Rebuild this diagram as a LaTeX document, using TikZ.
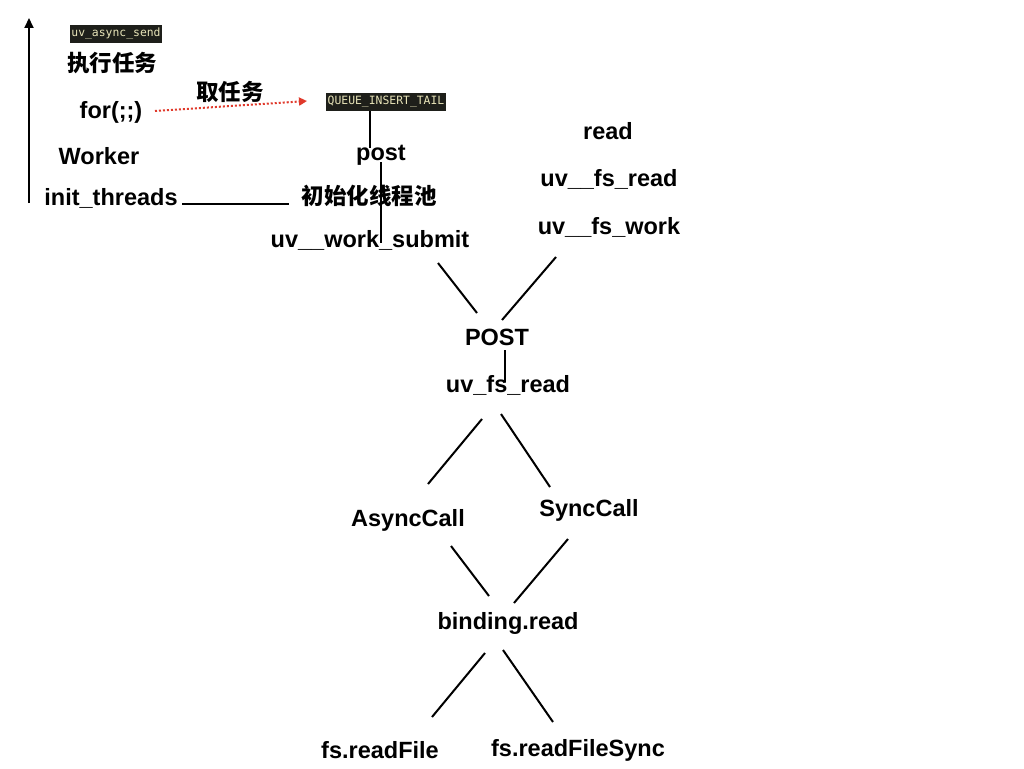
\documentclass[tikz,border=0pt]{standalone}
\usepackage{fontspec}
\setmainfont{Liberation Sans}
\newfontfamily\cjk{Noto Sans CJK SC}
\newfontfamily\monof{DejaVu Sans Mono}
\usetikzlibrary{arrows.meta}
\begin{document}
\begin{tikzpicture}[x=1pt,y=-1pt,
  lbl/.style={inner sep=0pt,font=\fontsize{23.5}{28}\selectfont\bfseries},
  cj/.style={inner sep=0pt,font=\fontsize{22.5}{28}\selectfont\cjk\bfseries},
  code/.style={fill=codebg,text=codefg,inner xsep=1.5pt,inner ysep=3pt,font=\fontsize{11.4}{13}\selectfont\monof},
  ln/.style={line width=2pt,black},
]
\definecolor{codebg}{HTML}{1E1F1A}
\definecolor{codefg}{HTML}{E8E4B8}
\definecolor{redd}{HTML}{E0392B}
\useasboundingbox[fill=white] (0,0) rectangle (1024,768);

% left column
\node[code] (async) at (116,34) {uv\_async\_send};
\node[cj] (exec) at (112,63) {执行任务};
\node[lbl] (for) at (111,112) {for(;;)};
\node[lbl] (worker) at (99,156) {Worker};
\node[lbl] (init) at (111,198) {init\_threads};
\node[cj] (take) at (230,92) {取任务};
\node[code] (queue) at (386,102) {QUEUE\_INSERT\_TAIL};
\node[lbl] (post) at (381,155) {post};
\node[cj] (pool) at (369,196) {初始化线程池};
\node[lbl] (submit) at (370,240) {uv\_\_work\_submit};

% right column
\node[lbl] (read) at (608,131) {read};
\node[lbl] (fsread) at (609,179) {uv\_\_fs\_read};
\node[lbl] (fswork) at (609,227) {uv\_\_fs\_work};

\node[lbl] (POST) at (497,337) {POST};
\node[lbl] (uvfsread) at (508,385) {uv\_fs\_read};
\node[lbl] (async2) at (408,520) {AsyncCall};
\node[lbl] (sync) at (589,510) {SyncCall};
\node[lbl] (binding) at (508,623) {binding.read};
\node[lbl] (readfile) at (380,750) {fs.readFile};
\node[lbl] (readfilesync) at (578,750) {fs.readFileSync};

% connector end points
\coordinate (axb) at (29,203);
\coordinate (axt) at (29,18);
\coordinate (d1) at (155,111);
\coordinate (d2) at (307,101);
\coordinate (q1) at (370,111);
\coordinate (q2) at (370,148);
\coordinate (p1) at (381,162);
\coordinate (p2) at (381,243);
\coordinate (i1) at (182,204);
\coordinate (i2) at (289,204);
\coordinate (s1) at (438,263);
\coordinate (s2) at (477,313);
\coordinate (w1) at (556,257);
\coordinate (w2) at (502,320);
\coordinate (o1) at (505,350);
\coordinate (o2) at (505,382);
\coordinate (r1) at (482,419);
\coordinate (r2) at (428,484);
\coordinate (r3) at (501,414);
\coordinate (r4) at (550,487);
\coordinate (a1) at (451,546);
\coordinate (a2) at (489,596);
\coordinate (y1) at (568,539);
\coordinate (y2) at (514,603);
\coordinate (b1) at (485,653);
\coordinate (b2) at (432,717);
\coordinate (b3) at (503,650);
\coordinate (b4) at (553,722);

\draw[ln,-{Triangle[length=10pt,width=9pt]}] (axb) -- (axt);
\draw[redd,line width=2pt,dash pattern=on 2pt off 2pt,-{Triangle[length=8pt,width=8pt]}] (d1) -- (d2);
\draw[ln] (q1) -- (q2);
\draw[ln] (p1) -- (p2);
\draw[ln] (i1) -- (i2);
\draw[ln] (s1) -- (s2);
\draw[ln] (w1) -- (w2);
\draw[ln] (o1) -- (o2);
\draw[ln] (r1) -- (r2);
\draw[ln] (r3) -- (r4);
\draw[ln] (a1) -- (a2);
\draw[ln] (y1) -- (y2);
\draw[ln] (b1) -- (b2);
\draw[ln] (b3) -- (b4);
\end{tikzpicture}
\end{document}
